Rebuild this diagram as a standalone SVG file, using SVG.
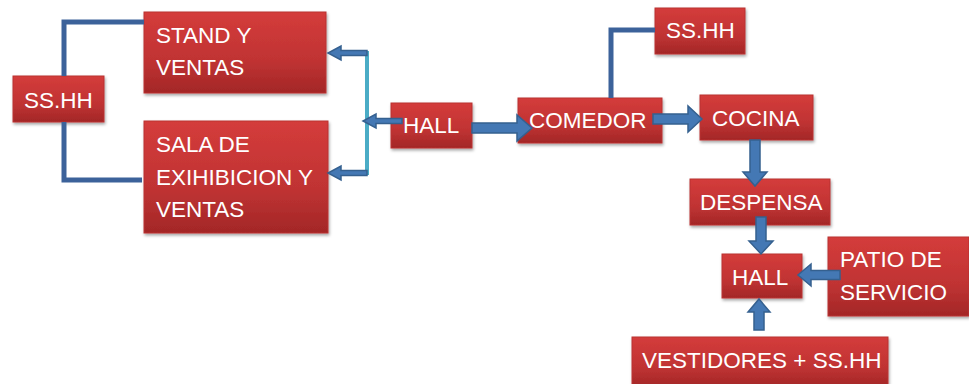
<svg xmlns="http://www.w3.org/2000/svg" width="969" height="384" viewBox="0 0 969 384">
<defs>
<linearGradient id="rg" x1="0" y1="0" x2="0" y2="1">
<stop offset="0" stop-color="#d43c3b"/>
<stop offset="0.6" stop-color="#c03333"/>
<stop offset="1" stop-color="#a32727"/>
</linearGradient>
<filter id="sh" x="-10%" y="-10%" width="130%" height="140%">
<feDropShadow dx="1" dy="2" stdDeviation="1.5" flood-color="#000" flood-opacity="0.35"/>
</filter>
</defs>
<style>
.box{fill:url(#rg);stroke:#b93232;stroke-width:1;filter:url(#sh)}
.t{font-family:"Liberation Sans",Arial,sans-serif;font-size:22.5px;fill:#fff}
.ln{fill:none;stroke:#3c629a;stroke-width:5}
.cy{fill:none;stroke:#4bacc6;stroke-width:4}
.ar{fill:#4478b4;stroke:#35608f;stroke-width:1.5;stroke-linejoin:miter}
</style>
<g id="n-sshh-left"><rect class="box" x="13" y="76" width="91" height="46"/><text class="t" x="24" y="108">SS.HH</text></g>
<g id="n-stand"><rect class="box" x="144" y="12" width="182" height="81"/><text class="t" x="156" y="43">STAND Y</text><text class="t" x="156" y="75">VENTAS</text></g>
<g id="n-sala"><rect class="box" x="144" y="121" width="184" height="112"/><text class="t" x="156" y="152">SALA DE</text><text class="t" x="156" y="185">EXIHIBICION Y</text><text class="t" x="156" y="217">VENTAS</text></g>
<g id="n-hall"><rect class="box" x="391" y="103" width="81" height="45"/><text class="t" x="403" y="133">HALL</text></g>
<g id="n-comedor"><rect class="box" x="518" y="98" width="144" height="45"/><text class="t" x="529" y="128">COMEDOR</text></g>
<g id="n-sshh-right"><rect class="box" x="655" y="8" width="90" height="46"/><text class="t" x="666" y="38">SS.HH</text></g>
<g id="n-cocina"><rect class="box" x="700" y="95" width="113" height="45"/><text class="t" x="712" y="126">COCINA</text></g>
<g id="n-despensa"><rect class="box" x="690" y="179" width="140" height="46"/><text class="t" x="700" y="210">DESPENSA</text></g>
<g id="n-hall2"><rect class="box" x="722" y="254" width="80" height="44"/><text class="t" x="732" y="285">HALL</text></g>
<g id="n-patio"><rect class="box" x="828" y="237" width="141" height="79"/><text class="t" x="840" y="267">PATIO DE</text><text class="t" x="840" y="300">SERVICIO</text></g>
<g id="n-vestidores"><rect class="box" x="632" y="337" width="256" height="50"/><text class="t" x="642" y="368">VESTIDORES + SS.HH</text></g>
<g id="connectors">
<path class="ln" d="M64,76 V22 H144"/>
<path class="ln" d="M64,122 V180 H142"/>
<path class="ln" d="M611,98 V30 H655"/>
<path class="cy" d="M367,51 V175"/>
<path class="ar" d="M367,50.5 H341 V46 L328,53 L341,60 V55.5 H367 Z"/>
<path class="ar" d="M367,170.5 H341 V166 L328,173 L341,180 V175.5 H367 Z"/>
<path class="ar" d="M402,118.5 H376 V114 L363,121 L376,128 V123.5 H402 Z"/>
<path class="ar" d="M472,123 H517 V115 L532,128 L517,141 V133 H472 Z"/>
<path class="ar" d="M653,114 H688 V106 L702,119 L688,132 V124 H653 Z"/>
<path class="ar" d="M750,140 V172 H743 L755,186 L767,172 H760 V140 Z"/>
<path class="ar" d="M756,217 V241 H749 L761,254 L773,241 H766 V217 Z"/>
<path class="ar" d="M754,330 V312 H748 L759,299 L770,312 H764 V330 Z"/>
<path class="ar" d="M840,270.5 H811 V264 L798,275 L811,286 V279.5 H840 Z"/>
</g>
</svg>
